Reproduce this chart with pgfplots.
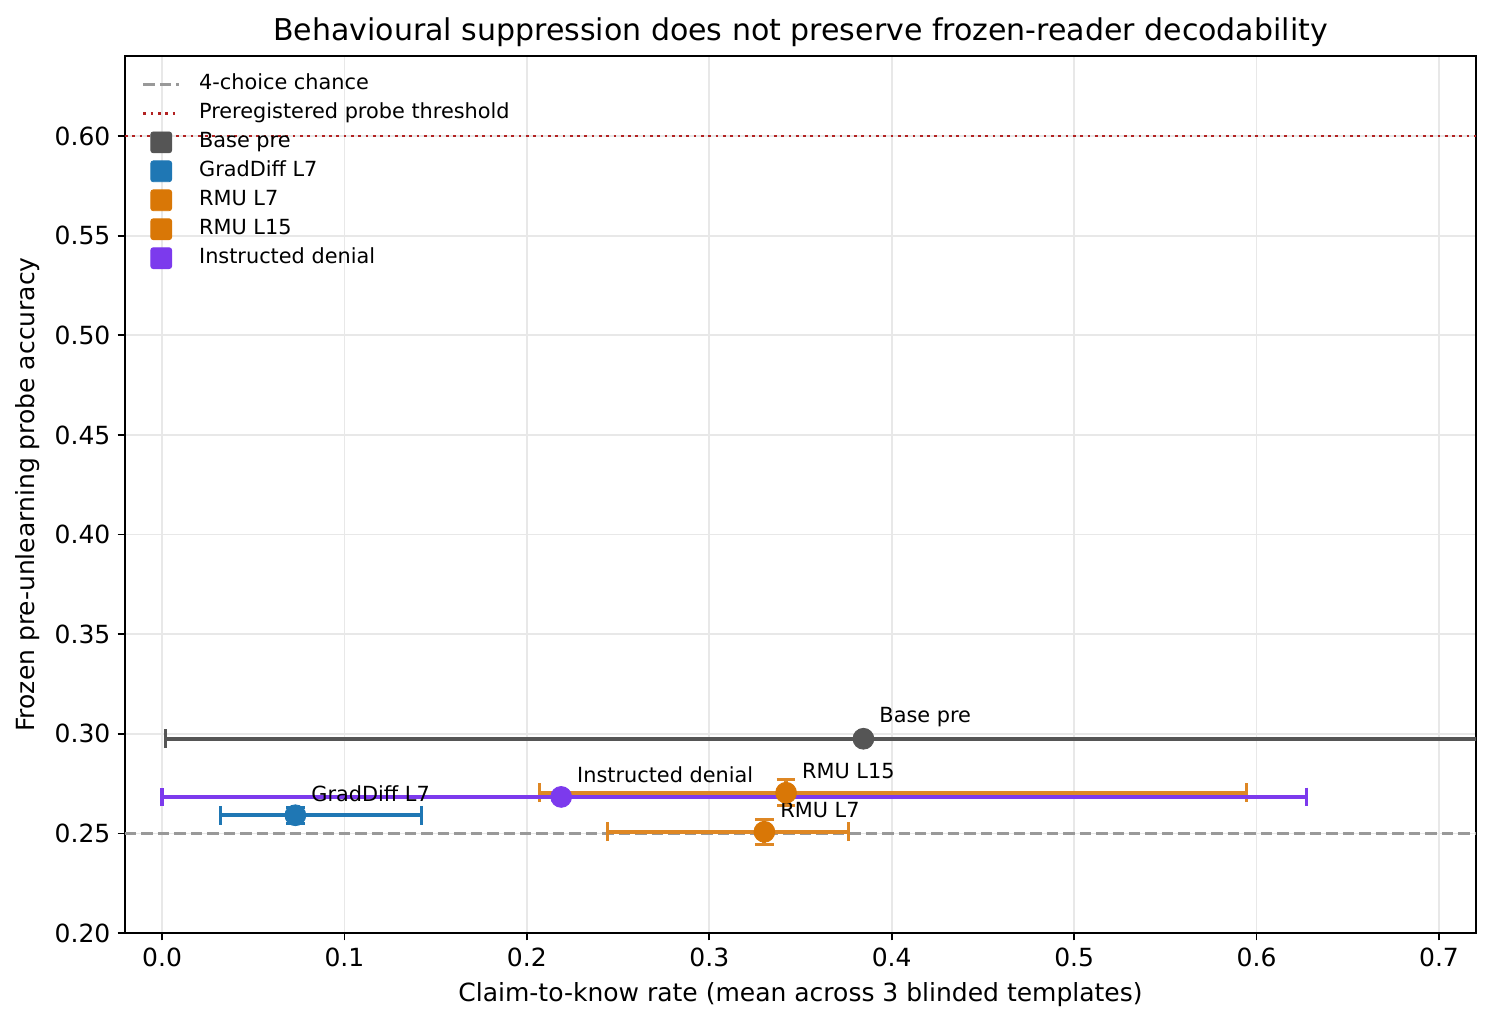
\documentclass[border=0pt]{standalone}
\usepackage{fontspec}
\setmainfont{DejaVu Sans}
\usepackage{pgfplots}
\pgfplotsset{compat=1.18}
\definecolor{cbase}{HTML}{555555}
\definecolor{cgrad}{HTML}{1F77B4}
\definecolor{crmu}{HTML}{D97706}
\definecolor{cinst}{HTML}{7C3AED}
\definecolor{cthr}{HTML}{B22222}
\definecolor{cchance}{HTML}{999999}
\definecolor{cgrid}{HTML}{E8E8E8}
\pgfplotsset{
  sqleg/.style={legend image code/.code={\draw[fill=#1,draw=#1,rounded corners=1.2pt] (0.3cm-5pt,-5pt) rectangle (0.3cm+5pt,5pt);}},
  error bars/errsty/.style={error bar style={#1, line width=2pt}, error mark options={#1, line width=1.5pt, mark size=4.5pt}},
}
\begin{document}
\begin{tikzpicture}
\begin{axis}[
  at={(0,0)}, anchor=south west,
  scale only axis, width=648.48pt, height=420.96pt,
  xmin=-0.0203, xmax=0.7203, ymin=0.20, ymax=0.6402,
  xtick={0,0.1,0.2,0.3,0.4,0.5,0.6,0.7},
  ytick={0.20,0.25,0.30,0.35,0.40,0.45,0.50,0.55,0.60},
  xticklabel style={/pgf/number format/.cd, fixed, fixed zerofill, precision=1},
  yticklabel style={/pgf/number format/.cd, fixed, fixed zerofill, precision=2},
  /pgf/number format/assume math mode=true,
  tick label style={font=\fontsize{12}{14}\selectfont},
  tick align=outside, tick pos=left, major tick length=3.5pt,
  every tick/.style={black, line width=0.8pt},
  axis line style={line width=0.9pt},
  grid=major, major grid style={cgrid, line width=0.8pt},
  title={Behavioural suppression does not preserve frozen-reader decodability},
  title style={font=\fontsize{14.4}{17}\selectfont, at={(axis description cs:0.5,1.0285)}, anchor=center, yshift=-6.7pt},
  xlabel={Claim-to-know rate (mean across 3 blinded templates)},
  ylabel={Frozen pre-unlearning probe accuracy},
  label style={font=\fontsize{12}{14}\selectfont},
  xlabel style={at={(axis description cs:0.5,-0.0708)}, anchor=center},
  ylabel style={at={(axis description cs:-0.0719,0.5)}, anchor=center},
  legend style={at={(axis description cs:0,1)}, anchor=north west, xshift=8pt, yshift=-7pt,
    draw=none, fill=none, font=\fontsize{10}{12}\selectfont, row sep=1pt, column sep=7.5pt,
    inner sep=0pt, nodes={inner sep=1.5pt, text height=7.4pt, text depth=2.5pt}},
  legend cell align=left,
  error bars/error mark=|,
]
% reference lines
\addplot[cchance, line width=1.2pt, dash pattern=on 5.5pt off 2.4pt] coordinates {(-0.0203,0.25) (0.7203,0.25)};
\addlegendentry{4-choice chance}
\addplot[cthr, line width=1.3pt, dash pattern=on 1.3pt off 2.2pt] coordinates {(-0.0203,0.60) (0.7203,0.60)};
\addlegendentry{Preregistered probe threshold}
% Base pre
\addplot[only marks, mark=*, mark size=5pt, color=cbase, mark options={fill=cbase, draw=cbase}, sqleg=cbase,
  error bars/.cd, x dir=both, x explicit, y dir=none, errsty=cbase]
  coordinates {(0.3845,0.2975) += (0.3827,0) -= (0.3827,0)};
\addlegendentry{Base pre}
% GradDiff L7
\addplot[only marks, mark=*, mark size=5pt, color=cgrad, mark options={fill=cgrad, draw=cgrad}, sqleg=cgrad,
  error bars/.cd, x dir=both, x explicit, y dir=both, y explicit, errsty=cgrad]
  coordinates {(0.0731,0.2591) += (0.0689,0.004) -= (0.0409,0.004)};
\addlegendentry{GradDiff L7}
% RMU L7
\addplot[only marks, mark=*, mark size=5pt, color=crmu, mark options={fill=crmu, draw=crmu}, sqleg=crmu,
  error bars/.cd, x dir=both, x explicit, y dir=both, y explicit, errsty=crmu!88!white]
  coordinates {(0.3302,0.2508) += (0.0463,0.0063) -= (0.0860,0.0063)};
\addlegendentry{RMU L7}
% RMU L15
\addplot[only marks, mark=*, mark size=5pt, color=crmu, mark options={fill=crmu, draw=crmu}, sqleg=crmu,
  error bars/.cd, x dir=both, x explicit, y dir=both, y explicit, errsty=crmu!88!white]
  coordinates {(0.3421,0.2704) += (0.2524,0.0066) -= (0.1354,0.0066)};
\addlegendentry{RMU L15}
% Instructed denial
\addplot[only marks, mark=*, mark size=5pt, color=cinst, mark options={fill=cinst, draw=cinst}, sqleg=cinst,
  error bars/.cd, x dir=both, x explicit, y dir=none, errsty=cinst]
  coordinates {(0.2188,0.2683) += (0.4086,0) -= (0.2188,0)};
\addlegendentry{Instructed denial}
% annotations
\begin{scope}[every node/.style={font=\fontsize{10}{12}\selectfont, anchor=west, inner sep=0pt, xshift=7.5pt, yshift=10.5pt}]
\node at (axis cs:0.3845,0.2975) {Base pre};
\node at (axis cs:0.0731,0.2591) {GradDiff L7};
\node at (axis cs:0.3302,0.2508) {RMU L7};
\node at (axis cs:0.3421,0.2704) {RMU L15};
\node at (axis cs:0.2188,0.2683) {Instructed denial};
\end{scope}
\end{axis}
\pgfresetboundingbox
\path[use as bounding box] (-60pt,-44.64pt) rectangle (656.64pt,447.84pt);
\end{tikzpicture}
\end{document}
